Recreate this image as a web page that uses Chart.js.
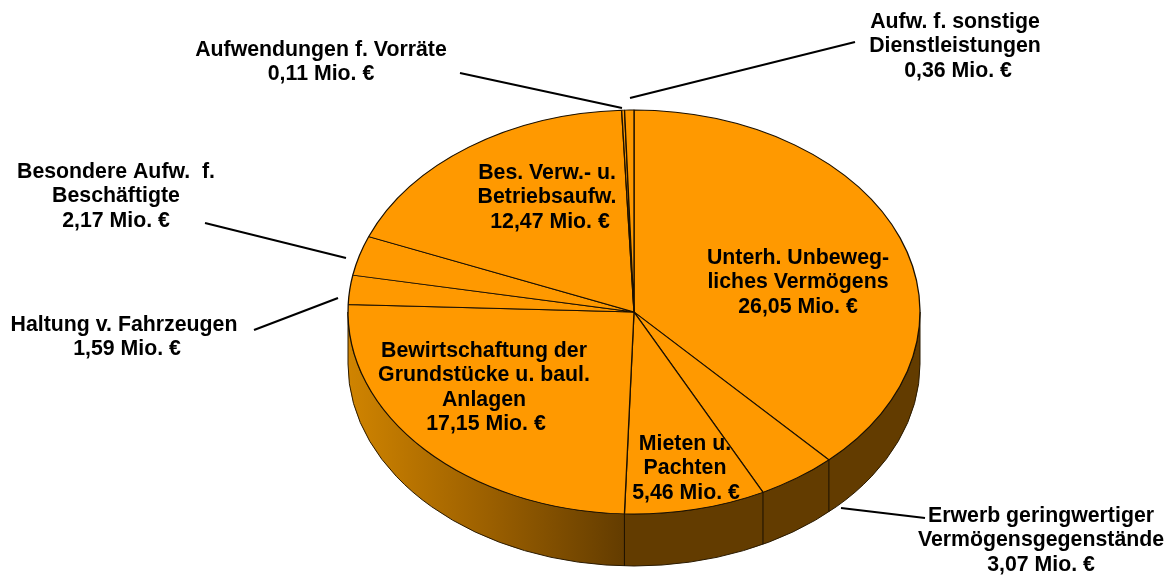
<!DOCTYPE html>
<html>
<head>
<meta charset="utf-8">
<style>html,body{margin:0;padding:0;background:#fff}canvas{display:block}</style>
<script src="https://cdn.jsdelivr.net/npm/chart.js@4"></script>
</head>
<body>
<canvas id="c" width="1170" height="575"></canvas>
<script>
const categories = [
  ["Unterh. Unbeweg-", "liches Vermögens"],
  ["Erwerb geringwertiger", "Vermögensgegenstände"],
  ["Mieten u.", "Pachten"],
  ["Bewirtschaftung der", "Grundstücke u. baul.", "Anlagen"],
  ["Haltung v. Fahrzeugen"],
  ["Besondere Aufw.  f.", "Beschäftigte"],
  ["Bes. Verw.- u.", "Betriebsaufw."],
  ["Aufwendungen f. Vorräte"],
  ["Aufw. f. sonstige", "Dienstleistungen"]
];
const values = [26.05, 3.07, 5.46, 17.15, 1.59, 2.17, 12.47, 0.11, 0.36];

// layout only
const pieCentre = {x: 634, y: 312, rx: 286, ry: 202, depth: 52};
const labelCentres = [
  [798, 258], [1041, 516], [685, 444], [484, 351], [124, 325],
  [116, 172], [547, 173], [321, 50], [955, 22]
];
const valueLineShift = [0, 0, 1, 2, 3, 0, 3, 0, 3];
const labelLineHeight = 24.4;
const leaders = [
  [[841, 508], [925, 518]],
  [[254, 330], [338, 298]],
  [[205, 223], [346, 258]],
  [[460, 73], [622, 108]],
  [[630, 98], [855, 42]]
];

const money = v => v.toFixed(2).replace(".", ",") + " Mio. €";

const pie3d = {
  id: "pie3d",
  beforeDatasetsDraw(chart) {
    const ctx = chart.ctx, arcs = chart.getDatasetMeta(0).data;
    const {x, y, rx, ry, depth} = pieCentre;
    // side wall
    const g = ctx.createLinearGradient(x - rx, 0, x - 9, 0);
    g.addColorStop(0, "#d08400");
    g.addColorStop(0.5, "#9c6000");
    g.addColorStop(1, "#633c00");
    ctx.save();
    ctx.beginPath();
    ctx.ellipse(x, y, rx, ry, 0, 0, Math.PI);
    ctx.lineTo(x - rx, y + depth);
    ctx.ellipse(x, y + depth, rx, ry, 0, Math.PI, 0, true);
    ctx.closePath();
    ctx.fillStyle = g;
    ctx.fill();
    ctx.strokeStyle = "#2a1a00";
    ctx.lineWidth = 1;
    ctx.stroke();
    // wall separators, from the library's own arc angles
    ctx.strokeStyle = "#1a1000";
    arcs.forEach(a => {
      const t = a.endAngle;
      if (t > 0 && t < Math.PI) {
        const px = x + rx * Math.cos(t), py = y + ry * Math.sin(t);
        ctx.beginPath();
        ctx.moveTo(px, py);
        ctx.lineTo(px, py + depth);
        ctx.stroke();
      }
    });
    ctx.restore();
    // squash the top face into an ellipse
    const a0 = arcs[0];
    ctx.save();
    ctx.translate(x, y);
    ctx.scale(rx / a0.outerRadius, ry / a0.outerRadius);
    ctx.translate(-a0.x, -a0.y);
  },
  afterDatasetsDraw(chart) {
    const ctx = chart.ctx;
    ctx.restore();
    ctx.save();
    ctx.strokeStyle = "#000";
    ctx.lineWidth = 2;
    leaders.forEach(([p, q]) => {
      ctx.beginPath();
      ctx.moveTo(p[0], p[1]);
      ctx.lineTo(q[0], q[1]);
      ctx.stroke();
    });
    ctx.fillStyle = "#000";
    ctx.font = 'bold 21.3px "Liberation Sans", Arial, sans-serif';
    ctx.textAlign = "center";
    ctx.textBaseline = "middle";
    categories.forEach((lines, i) => {
      const [cx, cy] = labelCentres[i];
      lines.forEach((t, k) => ctx.fillText(t, cx, cy + k * labelLineHeight));
      ctx.fillText(money(values[i]), cx + valueLineShift[i], cy + lines.length * labelLineHeight);
    });
    ctx.restore();
  }
};

new Chart(document.getElementById("c"), {
  type: "pie",
  data: {
    labels: categories.map(l => l.join(" ")),
    datasets: [{
      data: values,
      backgroundColor: "#FF9900",
      borderColor: "#1a1000",
      borderWidth: 1.3,
      clip: false
    }]
  },
  options: {
    responsive: false,
    animation: false,
    layout: {padding: 0},
    plugins: {legend: {display: false}, tooltip: {enabled: false}}
  },
  plugins: [pie3d]
});
</script>
</body>
</html>
